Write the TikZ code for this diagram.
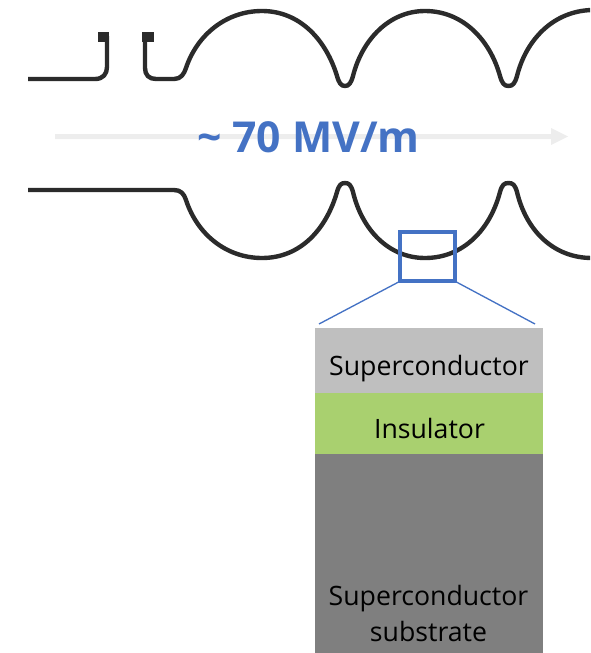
\documentclass[tikz,border=0pt]{standalone}
\usepackage{fontspec}
\setmainfont{Open Sans}
\usetikzlibrary{arrows.meta}
\definecolor{wall}{HTML}{2B2B2B}
\definecolor{accent}{HTML}{4472C4}
\definecolor{lightlayer}{HTML}{BFBFBF}
\definecolor{midlayer}{HTML}{A9D06F}
\definecolor{darklayer}{HTML}{7F7F7F}
\definecolor{axisgray}{HTML}{EDEDED}
\tikzset{
  cavity/.style={draw=wall,line width=3.3pt,line join=round},
  layer/.style={minimum width=171pt,inner sep=0pt,outer sep=0pt,anchor=north west},
  layertext/.style={text=black,font=\fontsize{20}{26.5}\selectfont,align=center,inner sep=0pt},
}
\begin{document}
\begin{tikzpicture}[x=0.75pt,y=-0.75pt]
\useasboundingbox (0,0) rectangle (590,653);
\clip (0,0) rectangle (590,653);
% beam axis
\fill[axisgray] (55,134) -- (551,134) -- (551,128) -- (568,136.5) -- (551,145) -- (551,139) -- (55,139) -- cycle;
% top wall
\draw[cavity] (28,79) -- (95,79) .. controls (103,79) and (107,74) .. (107,67) -- (107,36);
\fill[wall] (98,32) rectangle (109,42);
\draw[cavity] (145,36) -- (145,68) .. controls (145,75) and (149,79) .. (156,79) -- (174,79)
  .. controls (181,79) and (184,74) .. (186,68)
  .. controls (197,35) and (226,11) .. (262,11)
  .. controls (300,11) and (326,40) .. (337,76)
  .. controls (339,83) and (341,86) .. (345,86)
  .. controls (349,86) and (351,83) .. (353,76)
  .. controls (362,40) and (389,11) .. (425,11)
  .. controls (463,11) and (490,40) .. (500,76)
  .. controls (502,83) and (504,86) .. (508.5,86)
  .. controls (513,86) and (515,83) .. (517,76)
  .. controls (526,40) and (553,11) .. (592,10);
\fill[wall] (142,32) rectangle (154,42);
% bottom wall
\draw[cavity] (28,190) -- (174,190)
  .. controls (181,190) and (184,194) .. (186,200)
  .. controls (197,234) and (226,258) .. (262,258)
  .. controls (300,258) and (326,230) .. (337,192)
  .. controls (339,185) and (341,183) .. (345,183)
  .. controls (349,183) and (351,185) .. (353,192)
  .. controls (362,230) and (389,258) .. (425,258)
  .. controls (463,258) and (490,230) .. (500,192)
  .. controls (502,185) and (504,183) .. (508.5,183)
  .. controls (513,183) and (515,185) .. (517,192)
  .. controls (526,230) and (553,258) .. (592,258);
% field label
\node[text=accent,font=\fontsize{32}{38}\selectfont\bfseries,inner sep=0pt] (field) at (308.5,137) {\char`\~{} 70 MV/m};
% layers
\node[layer,fill=lightlayer,minimum height=48.75pt] (sc) at (315,328) {};
\node[layer,fill=midlayer,minimum height=45.75pt] (ins) at (315,393) {};
\node[layer,fill=darklayer,minimum height=149.25pt] (sub) at (315,454) {};
\node[layertext] (sclabel) at (429,369) {Superconductor};
\node[layertext] (inslabel) at (429.5,428.5) {Insulator};
\node[layertext] (sublabel) at (428.5,613.5) {Superconductor\\substrate};
% zoom frame
\node[draw=accent,line width=2.7pt,minimum width=41pt,minimum height=37pt,inner sep=0pt,outer sep=0pt] (frame) at (427.5,256.5) {};
\coordinate (zl) at (319,324);
\coordinate (zr) at (535,324);
\draw[accent,line width=1pt] (frame.south west) -- (zl);
\draw[accent,line width=1pt] (frame.south east) -- (zr);
\end{tikzpicture}
\end{document}
